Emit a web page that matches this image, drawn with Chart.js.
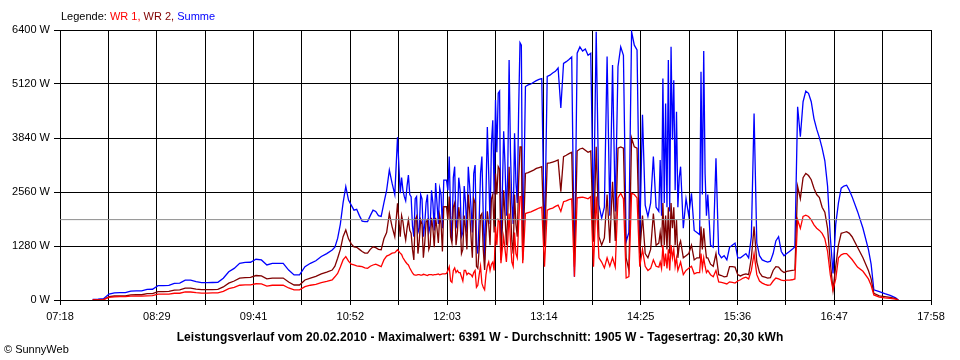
<!DOCTYPE html>
<html><head><meta charset="utf-8">
<script src="https://cdn.jsdelivr.net/npm/chart.js@4.4.1/dist/chart.umd.min.js"></script>
<style>
html,body{margin:0;padding:0;background:#fff;}
#wrap{position:relative;width:960px;height:360px;font-family:"Liberation Sans",Arial,sans-serif;color:#000;}
#c{position:absolute;left:0;top:0;}
.lg{position:absolute;left:61px;top:10px;font-size:11px;line-height:13px;white-space:nowrap;}
.tt{position:absolute;left:0;width:960px;text-align:center;top:330px;font-size:12px;font-weight:bold;letter-spacing:0.1px;line-height:14px;white-space:nowrap;}
.cp{position:absolute;left:4px;top:343px;font-size:11px;line-height:13px;white-space:nowrap;}
</style></head>
<body><div id="wrap"><canvas id="c" width="960" height="360"></canvas>
<div class="lg">Legende: <span style="color:#ff0000">WR 1,</span> <span style="color:#800000">WR 2,</span> <span style="color:#0000ff">Summe</span></div>
<div class="tt">Leistungsverlauf vom 20.02.2010 - Maximalwert: 6391 W - Durchschnitt: 1905 W - Tagesertrag: 20,30 kWh</div>
<div class="cp">© SunnyWeb</div>
</div>
<script>
const xTickLabels = ["07:18","08:29","09:41","10:52","12:03","13:14","14:25","15:36","16:47","17:58"];
const yTicks = [0,1280,2560,3840,5120,6400];
const average = 1905;

const times = [
"07:42","07:46","07:50","07:54","07:58","08:02","08:06","08:10","08:14","08:18","08:22","08:26",
"08:30","08:34","08:38","08:42","08:46","08:50","08:54","08:58","09:02","09:06","09:10","09:14",
"09:18","09:22","09:26","09:30","09:34","09:38","09:42","09:46","09:50","09:54","09:58","10:02",
"10:06","10:10","10:14","10:18","10:22","10:26","10:30","10:34","10:38",
"10:40","10:42","10:44","10:46","10:48","10:50","10:52","10:54","10:56","10:58",
"11:00","11:02","11:04","11:06","11:08","11:10","11:12","11:14","11:16","11:18",
"11:20","11:22","11:24","11:26",
"11:28","11:29","11:30","11:31","11:32","11:33","11:34","11:35","11:36","11:37",
"11:38","11:39","11:40","11:41","11:42","11:43","11:44","11:45","11:46","11:47",
"11:48","11:49","11:50","11:51","11:52","11:53","11:54","11:55","11:56","11:57",
"11:58","11:59","12:00","12:01","12:02","12:03","12:04","12:05","12:06","12:07",
"12:08","12:09","12:10","12:11","12:12","12:13","12:14","12:15","12:16","12:17",
"12:18","12:19","12:20","12:21","12:22","12:23","12:24","12:25","12:26","12:27",
"12:28","12:29","12:30","12:31","12:32","12:33","12:34","12:35","12:36","12:37",
"12:38","12:39","12:40","12:41","12:42","12:43","12:44","12:45","12:46","12:47",
"12:48","12:49","12:50","12:51","12:52","12:53","12:54","12:55","12:56","12:57",
"12:58","12:59",
"13:00","13:02","13:04","13:06","13:08","13:10","13:12","13:14","13:16","13:18",
"13:20","13:22","13:24","13:26","13:28","13:30","13:32","13:34","13:36","13:38",
"13:40","13:42","13:44","13:46","13:48","13:50","13:52","13:54","13:56","13:58",
"14:00","14:02","14:04","14:06","14:08","14:10","14:12","14:14","14:16","14:18",
"14:20","14:22","14:24","14:26","14:28","14:30","14:32","14:34","14:36",
"14:38","14:39","14:40","14:41","14:42","14:43","14:44","14:45","14:46","14:47",
"14:48","14:49","14:50","14:51","14:52","14:53","14:54",
"14:56","14:58","15:00","15:02","15:04","15:06","15:08","15:09","15:10","15:11",
"15:12","15:13","15:14","15:16","15:18",
"15:20","15:22","15:24","15:26","15:28","15:30","15:32","15:34","15:36","15:38",
"15:40","15:42","15:44","15:46","15:48","15:50","15:52","15:54","15:56","15:58",
"16:00","16:02","16:04","16:06","16:08","16:10","16:12","16:14","16:16","16:18",
"16:20","16:22","16:24","16:26","16:28","16:30","16:32","16:34","16:36","16:38",
"16:40","16:42","16:44","16:46","16:48","16:50","16:52","16:54","16:56","16:58",
"17:00","17:04","17:08","17:12","17:14","17:16","17:20","17:24","17:28","17:32","17:34"
];

const summe = [
15,20,30,140,170,175,175,210,215,215,250,255,
340,340,345,395,400,470,470,435,410,410,415,420,
515,670,750,870,890,895,965,950,830,870,870,870,
710,595,595,790,870,930,1030,1100,1185,
1250,1460,1800,2300,2690,2370,2250,2130,2150,2000,
1870,1860,1860,2000,2130,2100,2000,1980,2300,2600,
3080,2770,2500,3860,
2530,2900,2600,2450,2350,2700,2960,2500,2450,1750,
1500,2400,2450,1600,1700,2500,2400,1500,1800,2300,
2500,1600,1750,2600,2300,1650,2770,2300,1800,2650,
2500,1700,2840,2840,2840,2600,3400,2000,1400,2900,
3160,1700,1900,2900,2600,1500,1600,2700,2300,1600,
3160,2700,2200,1600,3000,3200,1300,1100,1900,3000,
3400,2000,950,2500,4100,3000,1800,3700,4260,2500,
4740,3500,4900,4950,1190,2500,4000,3200,2000,3000,
5690,3500,2300,1800,3950,2800,2300,4500,6100,6040,
1190,3000,
5060,5100,5120,5160,5200,5230,5250,1270,5300,5330,
5380,5420,5500,4550,5610,5650,5700,5760,550,5850,
6000,5900,5950,5800,5850,1940,6360,2250,1940,2200,
5770,2000,5570,2100,5530,6000,5800,1380,1600,6360,
6040,5930,1500,4390,2250,1980,2300,3400,2200,
2100,3320,2000,5250,2300,4660,2200,5690,2100,6000,
3800,5210,2600,4460,2200,2900,3160,
1700,2400,2000,2530,1650,1600,1550,5410,2500,5900,
3000,2000,2500,1300,1250,
3360,1100,1000,1050,950,1250,1300,1350,1000,1000,
1050,1100,1000,1500,4420,1350,1050,950,920,900,
920,1100,1400,1500,1150,1050,1100,1150,1200,1260,
4580,3870,4700,4950,4900,4700,4300,4050,3850,3600,
3300,2700,1500,630,1800,2300,2650,2700,2720,2600,
2450,2100,1700,1200,850,240,200,150,110,50,0
];

const wr2 = [
5,5,10,80,95,95,95,120,125,125,150,150,
200,200,205,235,240,280,280,260,245,245,245,250,
310,400,450,520,530,535,580,570,500,520,520,520,
425,355,355,475,520,560,620,660,710,
800,990,1200,1500,1660,1450,1330,1260,1250,1200,
1150,1110,1110,1200,1260,1240,1200,1190,1450,1600,
2050,1740,1500,2290,
1500,2000,1850,1600,1420,1700,1900,1650,1580,1200,
950,1900,1980,1100,1400,1900,1800,1000,1350,1850,
1900,1200,1300,1950,1700,1250,1950,1700,1350,2000,
1800,1150,2210,2210,2210,1900,2450,1500,1350,2200,
2300,1300,1600,2200,1900,1100,1200,2000,1700,1200,
2500,2100,1500,1000,2400,2300,800,750,1200,2000,
2050,1200,710,1500,2100,1800,1300,2400,2500,1600,
3000,2500,3160,3100,950,1700,2600,2000,1300,2000,
3160,2200,1400,1100,2500,1800,1500,2800,3630,3630,
950,2000,
3000,3020,3050,3080,3120,3140,3160,1260,3240,3250,
3270,3290,3320,2570,3400,3430,3470,3500,790,3530,
3580,3600,3550,3500,3530,1380,3630,1500,1300,1470,
2500,1350,2800,1400,3600,3630,3600,1000,710,3840,
3630,3600,1100,2000,1100,1000,1200,2050,1300,
1350,1600,1250,2300,1300,2000,1200,2200,1100,2300,
1700,2200,1300,1900,1000,1300,1400,
1000,1050,1100,1300,950,1000,1000,1740,1200,1700,
1300,1000,1000,850,800,
1100,600,580,550,560,790,790,780,600,570,
600,620,600,1000,1740,900,650,560,540,520,
530,700,790,780,700,650,680,690,700,710,
2690,2400,2900,3000,2950,2850,2650,2500,2430,2200,
2080,1700,900,240,800,1300,1580,1600,1620,1580,
1500,1250,1000,700,500,160,100,80,60,30,0
];

const wr1 = [
5,5,10,60,75,80,80,90,90,90,100,105,
140,140,140,160,160,190,190,175,165,165,170,170,
205,270,300,350,360,360,385,380,330,350,350,350,
285,240,240,315,350,370,410,440,475,
550,630,780,950,1030,920,850,830,810,800,
790,760,750,800,830,850,820,790,950,1040,
1070,1110,1120,1190,
1110,1080,1000,950,900,860,830,760,700,640,
600,590,590,600,600,590,590,610,600,590,
580,600,600,600,590,600,600,610,620,600,
610,620,620,620,630,700,790,450,420,700,
760,650,700,650,650,550,450,700,700,600,
640,620,600,550,650,700,300,350,600,800,
400,300,240,600,800,900,700,850,900,700,
1740,1300,1900,1850,870,1200,1500,1200,900,1400,
2050,1400,900,800,1600,1100,1000,1800,2450,2450,
870,1400,
2050,2070,2090,2120,2150,2180,2200,790,2130,2160,
2180,2220,2250,2100,2330,2350,2380,2400,550,2420,
2430,2440,2420,2400,2450,790,2450,1000,900,760,
1000,800,1000,780,2420,2530,2400,520,553,2530,
2500,2420,790,1200,800,700,750,950,800,
780,900,750,1300,800,1100,750,1200,700,1300,
1000,1200,800,1000,700,800,900,
600,700,750,800,620,650,650,1100,750,1000,
800,650,700,600,550,
700,430,420,400,380,430,420,400,450,480,
520,540,500,700,1100,600,450,400,370,350,
360,450,520,500,470,460,470,470,480,500,
1900,1700,1980,2010,1980,1900,1780,1700,1650,1580,
1450,1150,600,240,500,1000,1070,1100,1100,1030,
960,780,680,500,350,120,70,50,40,20,0
];

const toMin = s => { const p = s.split(':').map(Number); return p[0]*60 + p[1]; };
const xMin = toMin(xTickLabels[0]);
const xMax = toMin(xTickLabels[xTickLabels.length-1]);
const pts = arr => times.map((t,i) => ({x: toMin(t), y: arr[i]}));
const FONT = {family: '"Liberation Sans", Arial, sans-serif', size: 11};
const LW = 1.3;

new Chart(document.getElementById('c'), {
  type: 'line',
  data: { datasets: [
    {label:'Durchschnitt', data:[{x:xMin,y:average},{x:xMax,y:average}], borderColor:'#8c8c8c', borderWidth:1},
    {label:'WR 1', data:pts(wr1), borderColor:'#ff0000', borderWidth:LW},
    {label:'WR 2', data:pts(wr2), borderColor:'#800000', borderWidth:LW},
    {label:'Summe', data:pts(summe), borderColor:'#0000ff', borderWidth:LW}
  ]},
  options: {
    responsive:false, animation:false, devicePixelRatio:1,
    layout:{padding:{left:0, right:29, top:30, bottom:0}},
    elements:{point:{radius:0}, line:{tension:0, fill:false}},
    plugins:{legend:{display:false}, tooltip:{enabled:false}, title:{display:false}},
    scales:{
      x:{type:'linear', min:xMin, max:xMax, z:1,
        afterBuildTicks: s => { const t=[]; for (let i=0;i<=18;i++) t.push({value: xMin + i*(xMax-xMin)/18}); s.ticks = t; },
        afterFit: s => { s.height = 60; },
        ticks:{autoSkip:false, maxRotation:0, minRotation:0, padding:5, color:'#000', font:FONT,
          callback:(v,i) => (i % 2 === 0 ? xTickLabels[i/2] : '')},
        grid:{color:'#000', lineWidth:1, tickLength:5, drawTicks:true},
        border:{color:'#000', width:1}
      },
      y:{min:0, max:6400, z:1,
        afterBuildTicks: s => { s.ticks = yTicks.map(v => ({value:v})); },
        afterFit: s => { s.width = 60; },
        ticks:{padding:4, color:'#000', font:FONT, callback: v => v + ' W'},
        grid:{color:'#000', lineWidth:1, tickLength:6, drawTicks:true},
        border:{color:'#000', width:1}
      }
    }
  }
});
</script>
</body></html>
